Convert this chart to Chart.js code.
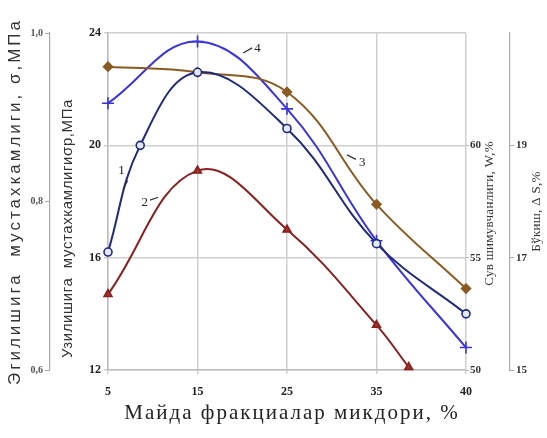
<!DOCTYPE html>
<html>
<head>
<meta charset="utf-8">
<script src="https://cdn.jsdelivr.net/npm/chart.js@4/dist/chart.umd.min.js"></script>
<style>
html,body{margin:0;padding:0;background:#fff;}
#wrap{width:547px;height:438px;}
</style>
</head>
<body>
<div id="wrap"><canvas id="c" width="547" height="438"></canvas></div>
<script>
// Category tick labels of the x axis (equally spaced positions 0..4)
const xTickLabels = ['5', '15', '25', '35', '40'];

// Series positions (in x-axis tick positions) and values (МПа, left inner axis)
const curve1X = [0, 0.36, 1, 2, 3, 4];
const curve1Y = [16.2, 20.0, 22.6, 20.6, 16.5, 14.0];
const curve2X = [0, 1, 2, 3, 3.36];
const curve2Y = [14.7, 19.1, 17.0, 13.6, 12.1];
const curve3X = [0, 1, 2, 3, 4];
const curve3Y = [22.8, 22.6, 21.9, 17.9, 14.9];
const curve4X = [0, 1, 2, 3, 4];
const curve4Y = [21.5, 23.7, 21.3, 16.6, 12.8];

// Axis ticks
const innerTicks = [12, 16, 20, 24];
const outerTicks = [0.6, 0.8, 1.0];
const waterTicks = [50, 55, 60];
const swellTicks = [15, 17, 19];

// Axis titles
const xTitle = 'Майда фракциалар микдори, %';
const outerTitle = 'Эгилишига  мустахкамлиги, σ,МПа';
const innerTitle = 'Узилишига  мустахкамлигиσр,МПа';
const waterTitle = 'Сув шимувчанлиги, W,%';
const swellTitle = 'Бўкиш, Δ S,%';

// curve labels: [text, x, y, leader x1, y1, x2, y2]
const curveLabels = [
  ['1', 0.15, 19.1, 0.17, 18.45, 0.22, 18.75],
  ['2', 0.41, 17.95, 0.47, 18.05, 0.56, 18.15],
  ['3', 2.84, 19.4, 2.67, 19.66, 2.77, 19.5],
  ['4', 1.67, 23.43, 1.51, 23.29, 1.61, 23.47]
];

function pts(xs, ys){ return xs.map((x,i)=>({x:x, y:ys[i]})); }

const serif = 'Liberation Serif';
const sans = 'Liberation Sans';

function drawText(ctx, text, x, y, font, spacing, rot){
  ctx.save();
  ctx.font = font;
  ctx.letterSpacing = spacing + 'px';
  ctx.translate(x, y);
  if (rot) ctx.rotate(-Math.PI/2);
  ctx.textAlign = 'center';
  ctx.textBaseline = 'middle';
  ctx.fillText(text, 0, 0);
  ctx.restore();
}

const labelsPlugin = {
  id: 'curveLabels',
  afterDatasetsDraw(chart){
    const ctx = chart.ctx, xs = chart.scales.x, ys = chart.scales.y;
    ctx.save();
    ctx.fillStyle = '#222';
    ctx.strokeStyle = '#333';
    ctx.lineWidth = 1.2;
    ctx.font = '13px ' + serif;
    ctx.textAlign = 'center';
    ctx.textBaseline = 'middle';
    curveLabels.forEach(l=>{
      ctx.beginPath();
      ctx.moveTo(xs.getPixelForValue(l[3]), ys.getPixelForValue(l[4]));
      ctx.lineTo(xs.getPixelForValue(l[5]), ys.getPixelForValue(l[6]));
      ctx.stroke();
      ctx.fillText(l[0], xs.getPixelForValue(l[1]), ys.getPixelForValue(l[2]));
    });
    const a = chart.chartArea;
    const mid = (a.top + a.bottom) / 2;
    ctx.fillStyle = '#222';
    drawText(ctx, xTitle, (a.left + a.right) / 2 + 5, xs.bottom - 25, '21px ' + serif, 2, false);
    ctx.fillStyle = '#333';
    drawText(ctx, outerTitle, chart.scales.yO.left + 15, mid, '17px ' + sans, 3, true);
    drawText(ctx, innerTitle, chart.scales.y.left + 18, mid + 27, '15px ' + sans, 0.6, true);
    drawText(ctx, waterTitle, chart.scales.yW.right - 20, mid + 12, '13px ' + serif, 0.3, true);
    drawText(ctx, swellTitle, chart.scales.yS.right - 10, mid + 10, '13px ' + serif, 0.3, true);
    ctx.restore();
  }
};

function ds(label, xs, ys, color, style, radius, fill){
  return {
    label: label,
    data: pts(xs, ys),
    borderColor: color,
    backgroundColor: fill,
    pointBorderColor: color,
    pointBackgroundColor: fill,
    pointStyle: style,
    pointRadius: radius,
    pointBorderWidth: 1.6,
    borderWidth: 2,
    tension: 0.4,
    clip: false,
    yAxisID: 'y'
  };
}

new Chart(document.getElementById('c'), {
  type: 'line',
  data: {
    datasets: [
      ds('1', curve1X, curve1Y, '#1f2b7a', 'circle', 4, '#e4e7f8'),
      ds('2', curve2X, curve2Y, '#8a1f1f', 'triangle', 4.5, '#a0302a'),
      ds('3', curve3X, curve3Y, '#8a5a22', 'rectRot', 4.5, '#8a5a22'),
      ds('4', curve4X, curve4Y, '#3a34dc', 'cross', 6, '#3a34dc')
    ]
  },
  options: {
    responsive: false,
    animation: false,
    devicePixelRatio: 1,
    layout: { padding: { top: 33, left: 0, right: 0, bottom: 0 } },
    plugins: { legend: { display: false }, tooltip: { enabled: false } },
    scales: {
      x: {
        type: 'linear', min: 0, max: 4,
        afterFit: s => { s.height = 68; },
        ticks: { stepSize: 1, callback: v => xTickLabels[v] ?? '', color: '#222',
                 font: { family: serif, size: 12, weight: 'bold' }, padding: 11, maxRotation: 0 },
        grid: { color: '#cfcfcf', lineWidth: 1.5, tickLength: 4 },
        border: { color: '#bdbdbd', width: 1.5 },
        title: { display: false }
      },
      yO: {
        position: 'left', min: 0.6, max: 1.0, weight: 2,
        afterBuildTicks: s => { s.ticks = outerTicks.map(v=>({value:v})); },
        afterFit: s => { s.width = 50; },
        ticks: { callback: v => v.toFixed(1).replace('.', ','), color: '#555',
                 font: { family: serif, size: 10, weight: 'bold' }, padding: 2 },
        grid: { drawOnChartArea: false, color: '#aaa', tickLength: 5 },
        border: { color: '#aaa', width: 1.2 },
        title: { display: false }
      },
      y: {
        position: 'left', min: 12, max: 24, weight: 1,
        afterBuildTicks: s => { s.ticks = innerTicks.map(v=>({value:v})); },
        afterFit: s => { s.width = 58; },
        ticks: { color: '#222', font: { family: serif, size: 12, weight: 'bold' }, padding: 3 },
        grid: { color: '#cfcfcf', lineWidth: 1.5, tickLength: 4 },
        border: { color: '#bdbdbd', width: 1.5 },
        title: { display: false }
      },
      yW: {
        position: 'right', min: 50, max: 65, weight: 1,
        afterBuildTicks: s => { s.ticks = waterTicks.map(v=>({value:v})); },
        afterFit: s => { s.width = 44; },
        ticks: { color: '#333', font: { family: serif, size: 11, weight: 'bold' }, padding: 1 },
        grid: { drawOnChartArea: false, color: '#bbb', tickLength: 3 },
        border: { display: false },
        title: { display: false }
      },
      yS: {
        position: 'right', min: 15, max: 21, weight: 2,
        afterBuildTicks: s => { s.ticks = swellTicks.map(v=>({value:v})); },
        afterFit: s => { s.width = 37; },
        ticks: { color: '#333', font: { family: serif, size: 11, weight: 'bold' }, padding: 2 },
        grid: { drawOnChartArea: false, color: '#aaa', tickLength: 4 },
        border: { color: '#aaa', width: 1.2 },
        title: { display: false }
      }
    }
  },
  plugins: [labelsPlugin]
});
</script>
</body>
</html>
